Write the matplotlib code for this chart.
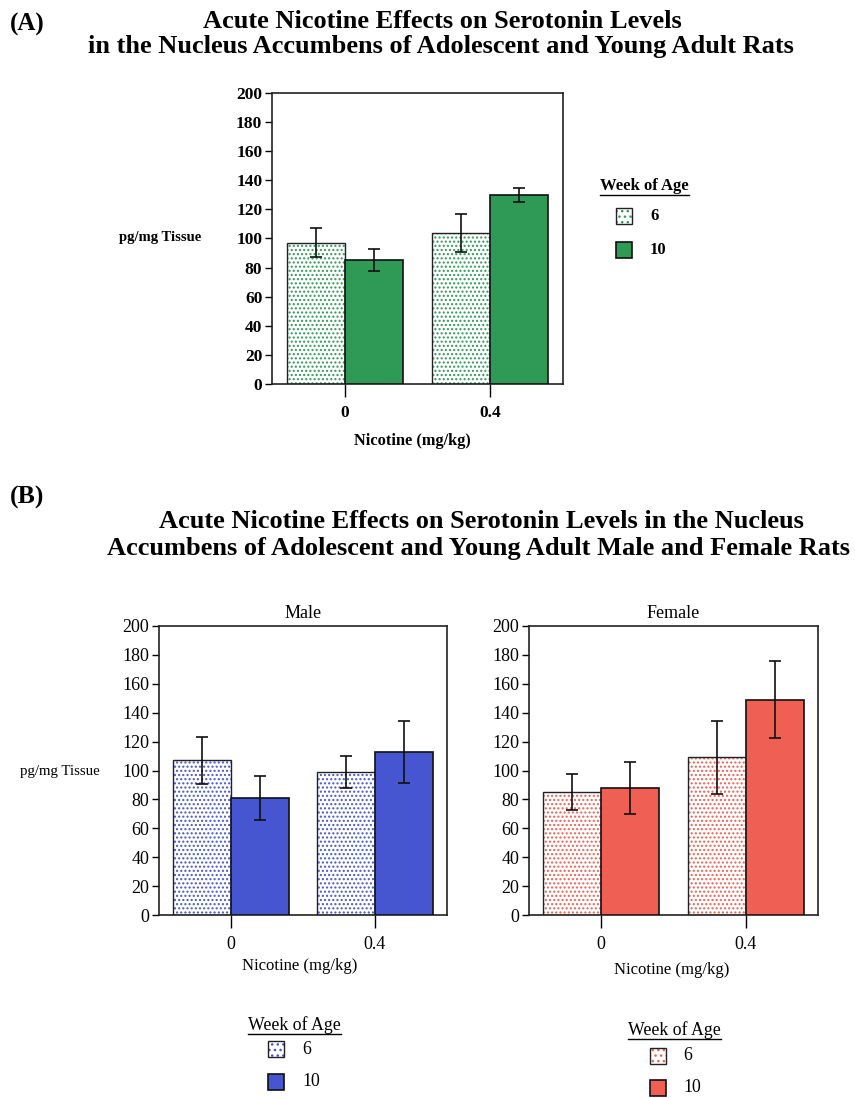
import matplotlib
matplotlib.use("Agg")
import matplotlib.pyplot as plt
from matplotlib.patches import Rectangle
from matplotlib.lines import Line2D
import numpy as np

plt.rcParams['font.family'] = ['Liberation Serif', 'DejaVu Serif']
plt.rcParams['hatch.linewidth'] = 1.0

W, H = 855, 1098

doses = ["0", "0.4"]
weeks = ["6", "10"]

# Panel A (all rats)
a_6 = [97, 104]
a_6_err = [10, 13]
a_10 = [85, 130]
a_10_err = [7.5, 5]

# Panel B male
m_6 = [107, 99]
m_6_err = [16, 11]
m_10 = [81, 113]
m_10_err = [15, 21.5]

# Panel B female
f_6 = [85, 109]
f_6_err = [12.5, 25]
f_10 = [88, 149]
f_10_err = [18, 26.5]

GREEN = '#2e9a55'
BLUE = '#4656d0'
RED = '#ef5f53'

fig = plt.figure(figsize=(W / 100, H / 100), dpi=100)


def fx(x):
    return x / W


def fy(y):
    return 1 - y / H


def make_axes(l, t, r, b):
    return fig.add_axes([fx(l), fy(b), fx(r) - fx(l), (b - t) / H])


def draw_panel(ax, v6, e6, v10, e10, color, tick_size, tick_weight):
    x = np.arange(len(doses))
    w = 0.4
    ax.bar(x - w / 2, v6, w, facecolor='white', edgecolor=color, hatch='....', linewidth=0, zorder=2)
    ax.bar(x - w / 2, v6, w, fill=False, edgecolor='#222222', linewidth=1.0, zorder=3)
    ax.bar(x + w / 2, v10, w, facecolor=color, edgecolor='#111111', linewidth=1.2, zorder=3)
    ax.errorbar(x - w / 2, v6, yerr=e6, fmt='none', ecolor='#111111', elinewidth=1.2, capsize=4, capthick=1.2, zorder=4)
    ax.errorbar(x + w / 2, v10, yerr=e10, fmt='none', ecolor='#111111', elinewidth=1.2, capsize=4, capthick=1.2, zorder=4)
    ax.set_xlim(-0.5, 1.5)
    ax.set_ylim(0, 200)
    ax.set_yticks(np.arange(0, 201, 20))
    ax.set_xticks(x)
    ax.set_xticklabels(doses)
    ax.tick_params(axis='y', direction='out', length=5, width=1, labelsize=tick_size, pad=2)
    ax.tick_params(axis='x', direction='out', length=9, width=1, labelsize=tick_size, pad=6)
    for lab in ax.get_xticklabels() + ax.get_yticklabels():
        lab.set_fontweight(tick_weight)
    for s in ax.spines.values():
        s.set_linewidth(1.2)
        s.set_color('#222222')


def draw_legend(x_title, y_title, x_patch, y6, y10, x_lab, color, size, weight):
    t = fig.text(fx(x_title), fy(y_title), "Week of Age", ha='left', va='center', fontsize=size,
                 fontweight=weight)
    fig.canvas.draw()
    bb = t.get_window_extent()
    fig.add_artist(Line2D([bb.x0 / W, bb.x1 / W], [fy(y_title + 9), fy(y_title + 9)],
                          transform=fig.transFigure, color='black', linewidth=1.0))
    s = 16
    fig.add_artist(Rectangle((fx(x_patch), fy(y6 + s / 2)), s / W, s / H, transform=fig.transFigure,
                             facecolor='white', edgecolor=color, hatch='...', linewidth=0))
    fig.add_artist(Rectangle((fx(x_patch), fy(y6 + s / 2)), s / W, s / H, transform=fig.transFigure,
                             fill=False, edgecolor='#222222', linewidth=1.0))
    fig.add_artist(Rectangle((fx(x_patch), fy(y10 + s / 2)), s / W, s / H, transform=fig.transFigure,
                             facecolor=color, edgecolor='#111111', linewidth=1.2))
    fig.text(fx(x_lab), fy(y6), weeks[0], ha='left', va='center', fontsize=size, fontweight=weight)
    fig.text(fx(x_lab), fy(y10), weeks[1], ha='left', va='center', fontsize=size, fontweight=weight)


# ---------------- Panel A ----------------
fig.text(fx(10), fy(24), "(A)", ha='left', va='center', fontsize=18, fontweight='bold')
fig.text(fx(442), fy(21), "Acute Nicotine Effects on Serotonin Levels", ha='center', va='center',
         fontsize=19, fontweight='bold')
fig.text(fx(441), fy(47), "in the Nucleus Accumbens of Adolescent and Young Adult Rats", ha='center',
         va='center', fontsize=19, fontweight='bold')

axA = make_axes(272, 93, 563, 384)
draw_panel(axA, a_6, a_6_err, a_10, a_10_err, GREEN, 12.5, 'bold')
fig.text(fx(160), fy(238), "pg/mg Tissue", ha='center', va='center', fontsize=10.5, fontweight='bold')
fig.text(fx(412), fy(441), "Nicotine (mg/kg)", ha='center', va='center', fontsize=11.8, fontweight='bold')
draw_legend(600, 186, 616, 216, 250, 650, GREEN, 12, 'bold')

# ---------------- Panel B ----------------
fig.text(fx(10), fy(497), "(B)", ha='left', va='center', fontsize=18.5, fontweight='bold')
fig.text(fx(481), fy(522), "Acute Nicotine Effects on Serotonin Levels in the Nucleus", ha='center',
         va='center', fontsize=19, fontweight='bold')
fig.text(fx(478), fy(548), "Accumbens of Adolescent and Young Adult Male and Female Rats", ha='center',
         va='center', fontsize=19, fontweight='bold')

axM = make_axes(159, 626, 447, 915)
draw_panel(axM, m_6, m_6_err, m_10, m_10_err, BLUE, 13, 'normal')
axM.set_title("Male", fontsize=13, pad=6)
fig.text(fx(60), fy(771), "pg/mg Tissue", ha='center', va='center', fontsize=10.7)
fig.text(fx(300), fy(966), "Nicotine (mg/kg)", ha='center', va='center', fontsize=12)
draw_legend(248, 1025, 268, 1049, 1082, 302, BLUE, 12.8, 'normal')

axF = make_axes(529, 626, 818, 915)
draw_panel(axF, f_6, f_6_err, f_10, f_10_err, RED, 13, 'normal')
axF.set_title("Female", fontsize=13, pad=6)
fig.text(fx(672), fy(970), "Nicotine (mg/kg)", ha='center', va='center', fontsize=12)
draw_legend(628, 1030, 650, 1056, 1088, 683, RED, 12.8, 'normal')

fig.savefig("out.png", dpi=100)
